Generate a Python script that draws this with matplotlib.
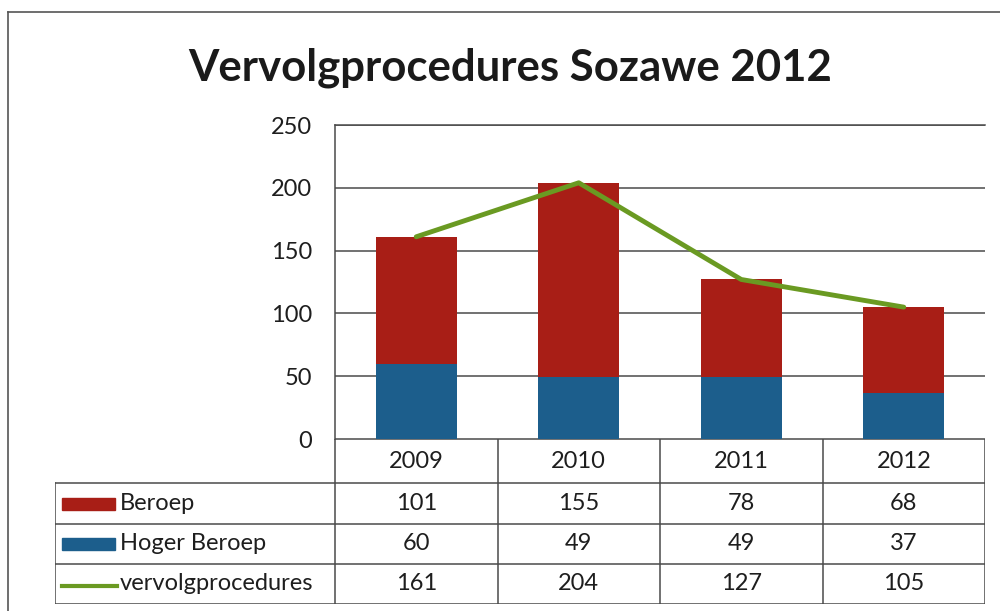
import numpy as np
import matplotlib.pyplot as plt
from matplotlib.lines import Line2D
from matplotlib.patches import Rectangle

years = ["2009", "2010", "2011", "2012"]
beroep = [101, 155, 78, 68]
hoger_beroep = [60, 49, 49, 37]
vervolg = [161, 204, 127, 105]

series_names = ["Beroep", "Hoger Beroep", "vervolgprocedures"]

RED = "#A81E16"
BLUE = "#1C5E8C"
GREEN = "#6A9A22"
GRID = "#4a4a4a"
TXT = "#1e1e1e"
FS = 17

plt.rcParams["font.family"] = ["Lato", "DejaVu Sans"]

W, H = 1000, 611
fig = plt.figure(figsize=(10, 6.11), dpi=100)


def box(x0, y0, x1, y1):
    # pixel box (top-left origin) -> figure fraction rect
    return [x0 / W, 1 - y1 / H, (x1 - x0) / W, (y1 - y0) / H]


# outer chart frame (scan edge)
fig.add_artist(Line2D([8 / W, 8 / W], [0, 1 - 12 / H], color="#555555", lw=1.2))
fig.add_artist(Line2D([8 / W, 1], [1 - 12 / H, 1 - 12 / H], color="#555555", lw=1.2))

fig.text(510 / W, 1 - 68 / H, "Vervolgprocedures Sozawe 2012", ha="center", va="center",
         fontsize=31.5, fontweight="bold", color="#1a1a1a")

# --- main chart
ax = fig.add_axes(box(335, 125, 985, 439))
x = np.arange(len(years))
ax.bar(x, hoger_beroep, width=0.5, color=BLUE, zorder=2)
ax.bar(x, beroep, width=0.5, bottom=hoger_beroep, color=RED, zorder=2)
ax.plot(x, vervolg, color=GREEN, lw=3.5, zorder=3, solid_capstyle="round")

ax.set_xlim(-0.5, 3.5)
ax.set_ylim(0, 250)
ax.set_yticks(range(0, 251, 50))
ax.yaxis.grid(True, color=GRID, lw=1.1)
ax.set_axisbelow(True)
ax.set_xticks([])
ax.tick_params(axis="y", length=0, pad=16.5, labelsize=FS, labelcolor=TXT)
for s in ["right", "bottom"]:
    ax.spines[s].set_visible(False)
for s in ["left", "top"]:
    ax.spines[s].set_color(GRID)
    ax.spines[s].set_linewidth(1.1)

# --- data table below, sharing the category scale
tab = fig.add_axes(box(55, 439, 985, 604))
left = -0.5 - 280 / 162.5
tab.set_xlim(left, 3.5)
tab.set_ylim(165, 0)
tab.axis("off")

row_edges = [0, 44, 85, 125, 165]
lc = dict(color=GRID, lw=1.1)
tab.plot([-0.5, 3.5], [0, 0], **lc)
for yy in row_edges[1:]:
    tab.plot([left, 3.5], [yy, yy], **lc)
for xx in np.arange(-0.5, 3.6, 1.0):
    tab.plot([xx, xx], [0, 165], **lc)
tab.plot([left, left], [row_edges[1], 165], **lc)


def mid(i):
    return (row_edges[i] + row_edges[i + 1]) / 2


for i, yr in enumerate(years):
    tab.text(i, mid(0), yr, ha="center", va="center", fontsize=FS, color=TXT)

rows = [beroep, hoger_beroep, vervolg]
for r, vals in enumerate(rows):
    for i, v in enumerate(vals):
        tab.text(i, mid(r + 1), str(v), ha="center", va="center", fontsize=FS, color=TXT)

# legend keys in first column
kx0 = left + 7 / 162.5
kw = 53 / 162.5
for r, (name, col) in enumerate(zip(series_names, [RED, BLUE, GREEN])):
    yc = mid(r + 1)
    if r < 2:
        tab.add_patch(Rectangle((kx0, yc - 6), kw, 12, color=col))
    else:
        tab.plot([kx0, kx0 + kw + 0.01], [yc + 2, yc + 2], color=col, lw=3)
    tab.text(kx0 + kw + 0.03, yc, name, ha="left", va="center", fontsize=FS, color=TXT)

fig.savefig("out.png", dpi=100)
